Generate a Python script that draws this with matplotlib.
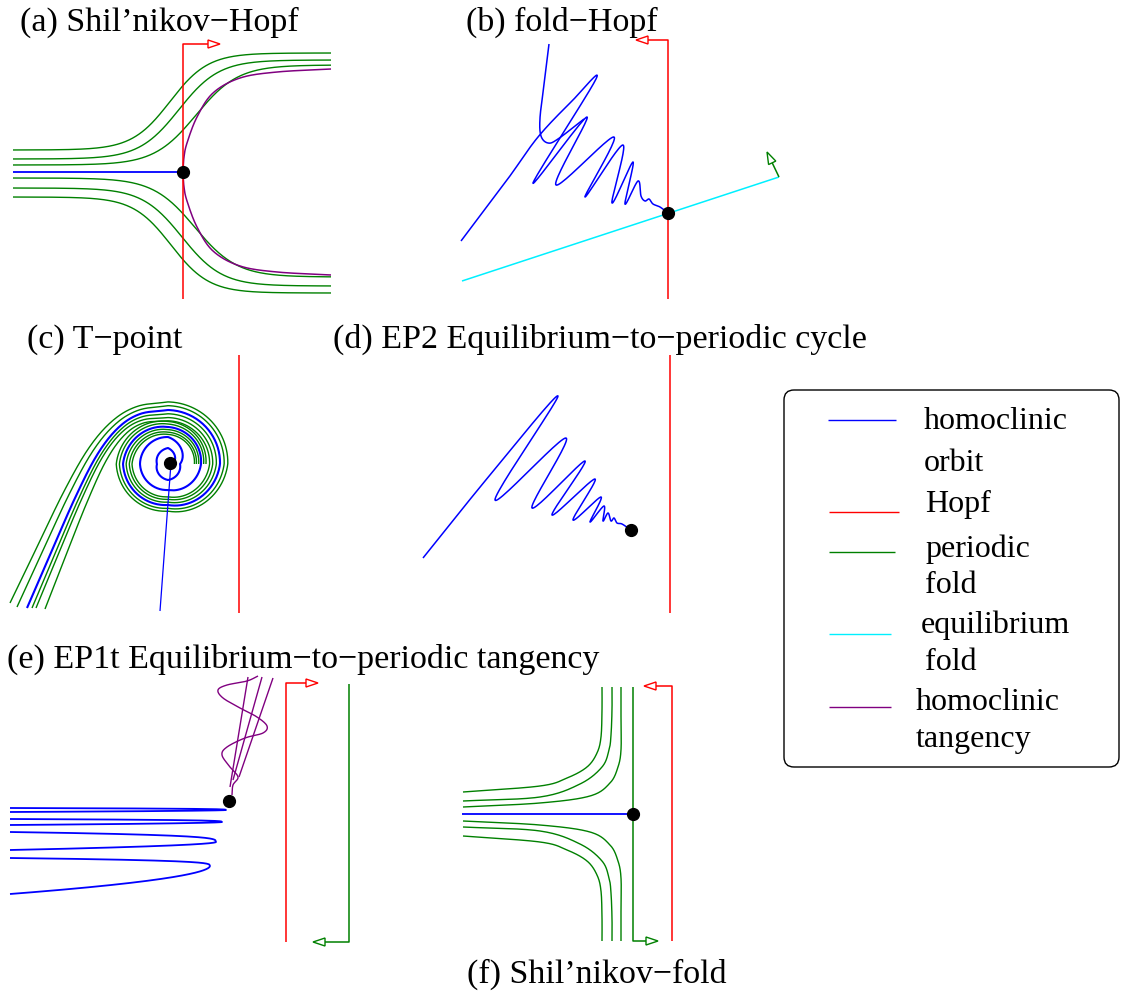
import numpy as np
import matplotlib
matplotlib.use("Agg")
import matplotlib.pyplot as plt
from matplotlib.patches import Polygon, FancyBboxPatch

plt.rcParams['font.family'] = ['Liberation Serif', 'DejaVu Serif']

W, H = 1121, 999
BLUE, RED, GREEN, CYAN, PURPLE = '#0000ff', '#ff0000', '#008000', '#00f0ff', '#800080'
LW = 1.1

# ---------------- data (schematic control values, pixel frame) ----------------
titles = ["(a) Shil\u2019nikov\u2212Hopf", "(b) fold\u2212Hopf", "(c) T\u2212point",
          "(d) EP2 Equilibrium\u2212to\u2212periodic cycle",
          "(e) EP1t Equilibrium\u2212to\u2212periodic tangency", "(f) Shil\u2019nikov\u2212fold"]
title_pos = [(20, 31), (466, 31), (27, 348), (333, 348), (7, 668), (467, 983)]

legend_labels = ["homoclinic", "orbit", "Hopf", "periodic", "fold", "equilibrium", "fold",
                 "homoclinic", "tangency"]
legend_text_pos = [(924, 429), (924, 471), (925, 512), (925, 557), (925, 593), (921, 633),
                   (925, 670), (916, 710), (916, 747)]
legend_colors = [BLUE, RED, GREEN, CYAN, PURPLE]
legend_line_y = [420, 512, 552, 634, 707]
legend_line_x = [(828, 896), (829, 899), (829, 895), (829, 891), (829, 891)]

# (a) periodic-fold sigmoids: (y_left, y_right, centre x, width)
a_green = [(150, 53, 170, 38), (159, 60, 179, 40), (165, 65, 196, 42),
           (178, 277, 195, 42), (188, 286, 182, 40), (197, 293, 171, 38)]
a_purple_top = [(183, 172), (184, 157), (187, 143), (197, 117), (213, 93), (240, 78),
                (277, 72), (331, 69)]

# (b) fold-Hopf homoclinic path
b_path = [(461, 241), (507, 180), (538, 137), (572, 101), (596, 79), (533, 183),
          (587, 117), (556, 185), (614, 137), (585, 197), (623, 145), (612, 203), (633, 162),
          (625, 204), (638, 181), (641, 196), (645, 201), (649, 199), (653, 204), (660, 207),
          (668, 213)]
b_top = [(549, 44), (544, 85), (540, 118), (541, 136), (548, 143), (558, 139), (584, 119)]

# (c) T-point spirals (quarter-turn radii)
c_theta = np.pi * np.array([0, .5, 1, 1.5, 2, 2.5, 3, 3.5, 4, 4.5, 5, 5.5, 6, 6.5])
c_blue_r = [4, 16, 11, 16, 12, 27, 28, 26, 33, 37, 45, 41, 52, 54]
c_arm = [(168, 410), (140, 414), (118, 428), (97, 455), (75, 498), (50, 555), (27, 608)]
c_green_scale = [1.15, 1.08, 0.93, 0.86, 0.80]
c_green_start = [8, 8, 8, 8, 8]          # index in c_theta where green spiral begins
c_green_end = [(10, 603), (17, 607), (32, 608), (36, 608), (45, 609)]

# (d) EP2 zigzag
d_path = [(423, 558), (490, 475), (558, 396), (495, 500), (566, 438), (532, 508),
          (585, 461), (552, 515), (595, 479), (573, 520), (601, 497), (590, 522), (604, 506),
          (603, 521), (608, 513), (611, 521), (614, 518), (617, 523), (622, 524), (631, 530)]

# (e) hairpins: (y_upper, y_lower, tip x, tip y)
e_hairpins = [(808, 812, 226, 810), (819, 825, 222, 822), (832, 850, 216, 842),
              (858, 894, 210, 866)]
e_purple_lines = [((230, 787), (248, 677)), ((233, 780), (262, 677)), ((239, 777), (273, 678))]
e_purple_helix = [(232, 795), (233, 785), (238, 777), (230, 767), (222, 755), (227, 747),
                  (245, 738), (263, 733), (267, 726), (257, 717), (240, 708), (223, 698),
                  (218, 690), (227, 685), (247, 681), (258, 676)]

# (f) hyperbola-like periodic folds (upper half; lower mirrored about y=814)
f_upper = [
    [(463, 792), (540, 786), (567, 778), (587, 767), (597, 753), (601, 737), (602, 710), (602, 687)],
    [(463, 801), (540, 797), (580, 784), (602, 767), (609, 750), (611, 735), (612, 710), (612, 687)],
    [(463, 807), (540, 803), (590, 796), (610, 783), (618, 767), (621, 750), (621, 720), (621, 687)],
]


# ---------------- helpers ----------------
def catmull(pts, n=24):
    P = np.asarray(pts, float)
    P = np.vstack([2 * P[0] - P[1], P, 2 * P[-1] - P[-2]])
    out = []
    t = np.linspace(0, 1, n, endpoint=False)[:, None]
    for i in range(1, len(P) - 2):
        p0, p1, p2, p3 = P[i - 1], P[i], P[i + 1], P[i + 2]
        out.append(0.5 * ((2 * p1) + (-p0 + p2) * t + (2 * p0 - 5 * p1 + 4 * p2 - p3) * t ** 2
                          + (-p0 + 3 * p1 - 3 * p2 + p3) * t ** 3))
    out.append(P[-2][None])
    return np.vstack(out)


fig = plt.figure(figsize=(W / 100, H / 100), dpi=100)
ax = fig.add_axes([0, 0, 1, 1])
ax.set_xlim(0, W)
ax.set_ylim(H, 0)
ax.axis('off')


def line(xs, ys, c, lw=LW, z=2):
    ax.plot(xs, ys, color=c, lw=lw, solid_capstyle='butt', zorder=z)


def curve(pts, c, lw=LW, n=24):
    P = catmull(pts, n)
    line(P[:, 0], P[:, 1], c, lw)


def head(x0, y0, x1, y1, c, hl=12, hw=4):
    d = np.array([x1 - x0, y1 - y0], float)
    d /= np.hypot(*d)
    nrm = np.array([-d[1], d[0]])
    tip = np.array([x1, y1], float)
    base = tip - hl * d
    ax.add_patch(Polygon([tip, base + hw * nrm, base - hw * nrm], closed=True,
                         facecolor='white', edgecolor=c, lw=1.0, zorder=3))
    return base


def elbow(pts, c, lw=LW):
    (x0, y0), (x1, y1), (x2, y2) = pts
    base = head(x1, y1, x2, y2, c)
    line([x0, x1, base[0]], [y0, y1, base[1]], c, lw)


def dot(x, y):
    ax.plot([x], [y], 'o', color='black', ms=8.5, zorder=5)


# ---------------- titles ----------------
for t, (x, y) in zip(titles, title_pos):
    ax.text(x, y, t, fontsize=24.5, ha='left', va='baseline', color='black')

# ---------------- (a) ----------------
xs = np.linspace(13, 331, 400)
for yl, yr, xc, w in a_green:
    ys = yl + (yr - yl) * (1 + np.tanh((xs - xc) / w)) / 2
    line(xs, ys, GREEN, lw=1.0)
P = catmull(a_purple_top)
line(P[:, 0], P[:, 1], PURPLE)
line(P[:, 0], 344 - P[:, 1], PURPLE)
elbow([(183, 299), (183, 44), (220, 44)], RED)
line([13, 183], [172, 172], BLUE, lw=1.3)
dot(183, 172)

# ---------------- (b) ----------------
line([462, 779], [281, 177], CYAN)
base = head(779, 177, 767, 152, GREEN)
line([779, base[0]], [177, base[1]], GREEN)
elbow([(668, 299), (668, 40), (636, 40)], RED)
curve(b_path, BLUE)
curve(b_top, BLUE)
dot(668, 213)

# ---------------- (c) ----------------
line([239, 239], [355, 613], RED)


def spiral_with_arm(cx, cy, thetas, radii, arm, color, lw):
    th = np.linspace(thetas[0], thetas[-1], 800)
    r = np.interp(th, thetas, radii)
    sx = cx + r * np.cos(th)
    sy = cy - r * np.sin(th)
    A = catmull(arm)
    A[:, 0] += sx[-1] - A[0, 0]
    line(np.r_[sx, A[1:, 0]], np.r_[sy, A[1:, 1]], color, lw)


arm_blue = np.array(c_arm, float)
wk = np.linspace(0, 1, len(arm_blue))[:, None]
for s, i0, (ex, ey) in zip(c_green_scale, c_green_start, c_green_end):
    rr = np.array(c_blue_r, float) * s
    top = 464 - rr[-1]
    arm = arm_blue + (1 - wk) * np.array([0, top - 410]) + wk * np.array([ex - 27, ey - 608])
    spiral_with_arm(168, 464, c_theta[i0:], rr[i0:], arm, GREEN, 1.0)
spiral_with_arm(168, 464, c_theta, c_blue_r, arm_blue, BLUE, 1.5)
line([171, 160], [463, 611], BLUE, lw=0.9)
dot(170, 463)

# ---------------- (d) ----------------
line([670, 670], [355, 613], RED)
curve(d_path, BLUE)
dot(631, 530)

# ---------------- (e) ----------------
for yu, yl, xt, yt in e_hairpins:
    xx = np.linspace(10, xt, 300)
    dd = (xt - xx) / (xt - 10)
    yu_c = yt - (yt - yu) * dd ** 0.3
    yl_c = yt + (yl - yt) * dd ** 0.55
    line(np.r_[xx, xx[::-1]], np.r_[yu_c, yl_c[::-1]], BLUE, lw=1.3)
for (p0, p1) in e_purple_lines:
    line([p0[0], p1[0]], [p0[1], p1[1]], PURPLE, lw=1.0)
curve(e_purple_helix, PURPLE, lw=1.0)
elbow([(286, 942), (286, 683), (318, 683)], RED)
elbow([(349, 684), (349, 942), (313, 942)], GREEN)
dot(229, 801)

# ---------------- (f) ----------------
for pts in f_upper:
    P = catmull(pts)
    line(P[:, 0], P[:, 1], GREEN, lw=1.0)
    line(P[:, 0], 1628 - P[:, 1], GREEN, lw=1.0)
line([462, 633], [814, 814], BLUE, lw=1.3)
elbow([(672, 941), (672, 686), (644, 686)], RED)
elbow([(633, 687), (633, 941), (658, 941)], GREEN)
dot(633, 814)

# ---------------- legend ----------------
ax.add_patch(FancyBboxPatch((784, 390), 335, 377, boxstyle="round,pad=0,rounding_size=10",
                            facecolor='white', edgecolor='black', lw=1.0, zorder=1))
for c, y, (x0, x1) in zip(legend_colors, legend_line_y, legend_line_x):
    line([x0, x1], [y, y], c, lw=1.0)
for t, (x, y) in zip(legend_labels, legend_text_pos):
    ax.text(x, y, t, fontsize=23, ha='left', va='baseline', color='black')

fig.savefig("out.png", dpi=100)
